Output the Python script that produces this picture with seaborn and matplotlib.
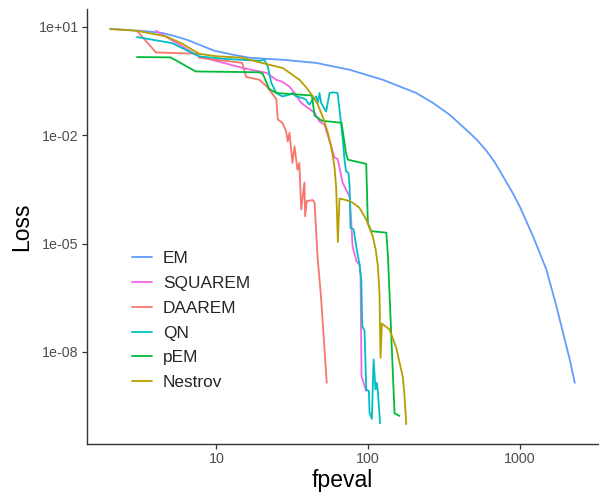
import numpy as np
import pandas as pd
import matplotlib
matplotlib.use("Agg")
import matplotlib.pyplot as plt
import seaborn as sns

methods = ["EM", "SQUAREM", "DAAREM", "QN", "pEM", "Nestrov"]
colors = ["#619CFF", "#F564E3", "#F8766D", "#00BFC4", "#00BA38", "#B79F00"]

em_x = [2, 3.6, 4.5, 5.4, 6.4, 7.7, 9.7, 12.7, 16.5, 22.3, 27.4, 45.4, 75, 125,
        207, 267, 343, 466, 525, 600, 680, 771, 877, 993, 1216, 1490, 1734, 1918,
        2123, 2291]
em_y = [8.8, 7.4, 6.6, 5.4, 4.37, 3.2, 2.17, 1.7, 1.39, 1.28, 1.22, 1.0, 0.65,
        0.34, 0.147, 0.078, 0.037, 0.0115, 0.00705, 0.0037, 0.0018, 7.3e-4,
        2.9e-4, 1.08e-4, 1.6e-5, 1.9e-6, 1.85e-7, 3.4e-8, 6.2e-9, 1.4e-9]

squarem_x = [4, 7.7, 14.8, 19.2, 21.4, 24.8, 27.2, 30.3, 33.5, 36.1, 39.8, 44.3,
             47.7, 51.5, 54, 57, 60, 62.8, 64.7, 67.7, 75.4, 77.3, 78.8, 83.8,
             87.7, 89, 90.3, 97]
squarem_y = [7.75, 1.51, 0.73, 0.58, 0.53, 0.34, 0.30, 0.22, 0.13, 0.079, 0.058,
             0.042, 0.024, 0.0195, 0.0103, 0.0049, 0.0024, 0.0022, 0.00126, 4.9e-4,
             2.0e-4, 4.1e-5, 8.4e-6, 3.2e-6, 2.6e-6, 1.25e-6, 2.1e-9, 8.3e-10]

daarem_x = [3, 4, 7.5, 7.7, 14.8, 15.7, 19.2, 21.3, 22.3, 24.8, 25.4, 27.2, 28.8,
            29.5, 30.3, 31.7, 32.7, 34.2, 35.2, 36.2, 38, 38.4, 39.4, 43.1, 44.3,
            46.5, 47.8, 49, 53.3]
daarem_y = [7.75, 1.95, 1.79, 1.39, 1.0, 0.41, 0.34, 0.23, 0.18, 0.10, 0.027,
            0.022, 0.0127, 0.0067, 0.0117, 0.0017, 0.0049, 0.0011, 0.0017, 8.7e-5,
            4.9e-4, 5.7e-5, 1.5e-4, 1.6e-4, 1.36e-4, 3.6e-6, 1.0e-6, 2.8e-7, 1.4e-9]

qn_x = [3, 5.1, 7.7, 11.6, 19.2, 20.7, 21.8, 23, 24.8, 27.2, 30.3, 31.7, 33.5,
        36.9, 39, 40, 41, 43, 45.4, 46.5, 47.8, 49, 52.8, 55.6, 58.5, 62.8, 64.7,
        68, 69.8, 71.4, 74.1, 75.4, 76.4, 80, 84.1, 87.7, 90, 91.3, 94.6, 97, 101,
        102, 105.7, 108.4, 111.7, 114, 115.7, 119.6]
qn_y = [5.2, 3.54, 1.51, 1.28, 1.15, 1.22, 0.80, 0.28, 0.147, 0.118, 0.132, 0.147,
        0.118, 0.107, 0.096, 0.078, 0.070, 0.096, 0.118, 0.078, 0.147, 0.078,
        0.045, 0.147, 0.153, 0.147, 0.051, 0.0075, 0.0021, 0.001, 9.0e-4, 3.8e-4,
        2.7e-5, 2.5e-5, 6.8e-6, 2.6e-6, 1.0e-6, 5.2e-8, 3.8e-8, 9.2e-10, 8.3e-10,
        2.1e-10, 1.4e-10, 6.2e-9, 9.2e-10, 1.4e-9, 8.3e-10, 1.06e-10]

pem_x = [3, 5, 7.3, 19.2, 20.2, 22.3, 24.8, 42.6, 44.3, 49.6, 66.7, 71.4, 73.4,
         97, 99.4, 104.6, 131.5, 134.7, 149, 160.7]
pem_y = [1.45, 1.42, 0.58, 0.55, 0.50, 0.19, 0.147, 0.125, 0.035, 0.025, 0.022,
         0.0032, 0.0021, 0.0016, 3.7e-5, 2.2e-5, 2.0e-5, 5.0e-6, 2.0e-10, 1.7e-10]

nestrov_x = [2, 3, 4.66, 5.97, 7.7, 9.95, 14.8, 19.2, 27.4, 35.3, 39.2, 43.2, 46.3,
             49, 51.5, 54.2, 56.4, 58.5, 60, 61.5, 63.1, 64.7, 71.6, 79.3, 87.7,
             97, 107, 112, 115.7, 118.6, 120.5, 123, 138, 153, 169, 173, 178]
nestrov_y = [8.6, 7.75, 5.4, 3.39, 1.79, 1.53, 1.39, 1.04, 0.72, 0.34, 0.206,
             0.118, 0.074, 0.041, 0.0237, 0.0115, 0.0058, 0.0026, 0.00126, 3.5e-4,
             1.1e-5, 1.76e-4, 1.6e-4, 1.34e-4, 9.7e-5, 4.6e-5, 1.6e-5, 6.8e-6,
             2.4e-6, 4.3e-7, 6.9e-9, 6.1e-8, 4.2e-8, 1.3e-8, 2.0e-9, 6.8e-10, 1.0e-10]

series = {
    "EM": (em_x, em_y),
    "SQUAREM": (squarem_x, squarem_y),
    "DAAREM": (daarem_x, daarem_y),
    "QN": (qn_x, qn_y),
    "pEM": (pem_x, pem_y),
    "Nestrov": (nestrov_x, nestrov_y),
}

frames = []
for name, (xs, ys) in series.items():
    frames.append(pd.DataFrame({"fpeval": xs, "loss": ys, "method": name}))
df = pd.concat(frames, ignore_index=True)

sns.set_theme(style="ticks")
plt.rcParams["font.family"] = ["Liberation Sans", "DejaVu Sans"]

fig = plt.figure(figsize=(5.99, 4.96), dpi=100)
ax = fig.add_axes([87 / 599, 1 - 444 / 496, 511 / 599, 435 / 496])

sns.lineplot(data=df, x="fpeval", y="loss", hue="method", hue_order=methods,
             palette=colors, estimator=None, sort=False, linewidth=1.3, ax=ax)

ax.set_xscale("log")
ax.set_yscale("log")

# ggplot-like 5% expansion on log scale
lx = np.log10(df["fpeval"])
ly = np.log10(df["loss"])
ex = 0.05 * (lx.max() - lx.min())
ey = 0.05 * (ly.max() - ly.min())
ax.set_xlim(10 ** (lx.min() - ex), 10 ** (lx.max() + ex))
ax.set_ylim(10 ** (ly.min() - ey), 10 ** (ly.max() + ey))

ax.set_xticks([10, 100, 1000])
ax.set_xticklabels(["10", "100", "1000"])
ax.set_yticks([1e1, 1e-2, 1e-5, 1e-8])
ax.set_yticklabels(["1e+01", "1e-02", "1e-05", "1e-08"])
ax.minorticks_off()

ax.tick_params(axis="both", length=3.5, width=0.9, color="#333333",
               labelcolor="#4D4D4D", labelsize=10.3, pad=2.5)
for side in ["left", "bottom"]:
    ax.spines[side].set_color("#333333")
    ax.spines[side].set_linewidth(1.0)
sns.despine(ax=ax)

ax.set_xlabel("fpeval", fontsize=16.5, color="black", labelpad=2)
ax.set_ylabel("Loss", fontsize=16.5, color="black", labelpad=4)

leg = ax.legend(loc="upper left", bbox_to_anchor=(0.088, 0.444), frameon=False,
                fontsize=12.4, handlelength=1.16, handletextpad=0.64,
                labelspacing=0.57, borderpad=0, borderaxespad=0)
for line in leg.get_lines():
    line.set_linewidth(1.3)

fig.savefig("out.png", dpi=100)
